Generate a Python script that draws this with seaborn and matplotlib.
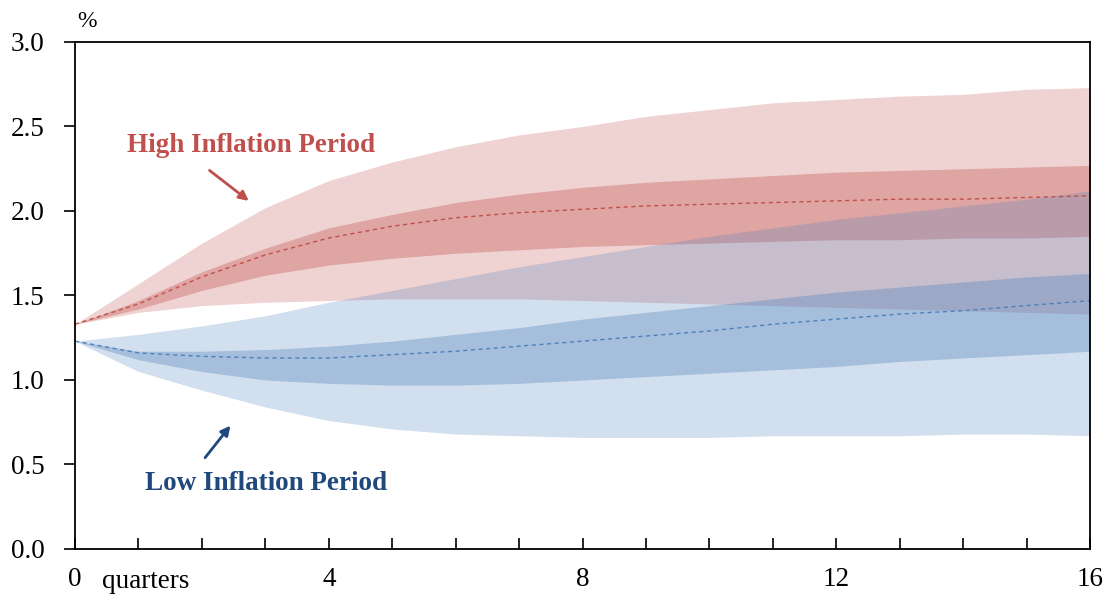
import numpy as np
import pandas as pd
import seaborn as sns
from matplotlib import pyplot as plt

# quarters after shock
quarters = list(range(17))

# High inflation period: percentile bands + median
high_outer_hi = [1.33, 1.57, 1.81, 2.02, 2.18, 2.29, 2.38, 2.45, 2.50, 2.56, 2.60, 2.64, 2.66, 2.68, 2.69, 2.72, 2.73]
high_inner_hi = [1.33, 1.47, 1.64, 1.78, 1.90, 1.98, 2.05, 2.10, 2.14, 2.17, 2.19, 2.21, 2.23, 2.24, 2.25, 2.26, 2.27]
high_median = [1.33, 1.45, 1.61, 1.74, 1.84, 1.91, 1.96, 1.99, 2.01, 2.03, 2.04, 2.05, 2.06, 2.07, 2.07, 2.08, 2.09]
high_inner_lo = [1.33, 1.42, 1.53, 1.62, 1.68, 1.72, 1.75, 1.77, 1.79, 1.80, 1.81, 1.82, 1.83, 1.83, 1.84, 1.84, 1.85]
high_outer_lo = [1.33, 1.40, 1.44, 1.46, 1.47, 1.48, 1.48, 1.48, 1.47, 1.46, 1.45, 1.44, 1.43, 1.42, 1.41, 1.40, 1.39]

# Low inflation period
low_outer_hi = [1.23, 1.27, 1.32, 1.38, 1.46, 1.53, 1.60, 1.67, 1.73, 1.79, 1.85, 1.90, 1.95, 1.99, 2.03, 2.07, 2.12]
low_inner_hi = [1.23, 1.17, 1.17, 1.18, 1.20, 1.23, 1.27, 1.31, 1.36, 1.40, 1.44, 1.48, 1.52, 1.55, 1.58, 1.61, 1.63]
low_median = [1.23, 1.16, 1.14, 1.13, 1.13, 1.15, 1.17, 1.20, 1.23, 1.26, 1.29, 1.33, 1.36, 1.39, 1.41, 1.44, 1.47]
low_inner_lo = [1.23, 1.12, 1.05, 1.00, 0.98, 0.97, 0.97, 0.98, 1.00, 1.02, 1.04, 1.06, 1.08, 1.11, 1.13, 1.15, 1.17]
low_outer_lo = [1.23, 1.05, 0.94, 0.84, 0.76, 0.71, 0.68, 0.67, 0.66, 0.66, 0.66, 0.67, 0.67, 0.67, 0.68, 0.68, 0.67]

y_ticks = [0.0, 0.5, 1.0, 1.5, 2.0, 2.5, 3.0]

red = "#C0504D"
blue = "#4F81BD"
navy = "#1F497D"

sns.set_theme(style="white")
plt.rcParams['font.family'] = ['Liberation Serif', 'DejaVu Serif']
plt.rcParams['text.color'] = 'black'
plt.rcParams['xtick.labelcolor'] = 'black'
plt.rcParams['ytick.labelcolor'] = 'black'

fig = plt.figure(figsize=(11.08, 5.94), dpi=100)
ax = fig.add_axes([0.0677, 0.0758, 0.9161, 0.8535])

# bands
ax.fill_between(quarters, high_outer_lo, high_outer_hi, color=red, alpha=0.25, lw=0)
ax.fill_between(quarters, high_inner_lo, high_inner_hi, color=red, alpha=0.35, lw=0)
ax.fill_between(quarters, low_outer_lo, low_outer_hi, color=blue, alpha=0.25, lw=0)
ax.fill_between(quarters, low_inner_lo, low_inner_hi, color=blue, alpha=0.35, lw=0)

# medians
df = pd.DataFrame({
    "quarter": quarters * 2,
    "value": high_median + low_median,
    "period": ["High"] * len(quarters) + ["Low"] * len(quarters),
})
sns.lineplot(data=df, x="quarter", y="value", hue="period",
             palette={"High": red, "Low": blue}, linewidth=1.0,
             ax=ax, legend=False)
for line in ax.get_lines():
    line.set_dashes([3, 2.5])

ax.set_xlim(0, 16)
ax.set_ylim(0, 3.0)
ax.set_xticks(quarters)
ax.set_xticklabels([str(q) if q % 4 == 0 else "" for q in quarters])
ax.set_yticks(y_ticks)
ax.set_yticklabels([f"{v:.1f}" for v in y_ticks])
ax.set_xlabel("")
ax.set_ylabel("")

for s in ax.spines.values():
    s.set_color("black")
    s.set_linewidth(1.3)

ax.tick_params(axis="x", direction="in", length=8, width=1.2, color="black",
               labelsize=19.5, labelcolor="black", pad=13, bottom=True)
ax.tick_params(axis="y", direction="out", length=8, width=1.2, color="black",
               labelsize=19.5, labelcolor="black", pad=14, left=True)

ax.text(0.04, 3.06, "%", fontsize=17, ha="left", va="bottom", color="black")
ax.text(1.12, -0.195, "quarters", fontsize=19.5, ha="center", va="center",
        color="black", clip_on=False)

ax.text(2.77, 2.39, "High Inflation Period", color=red, fontsize=19.5,
        fontweight="bold", ha="center", va="center")
ax.annotate("", xy=(2.74, 2.06), xytext=(2.12, 2.24),
            arrowprops=dict(arrowstyle="-|>", color=red, lw=2,
                            mutation_scale=14, shrinkA=0, shrinkB=0))

ax.text(3.01, 0.385, "Low Inflation Period", color=navy, fontsize=19.5,
        fontweight="bold", ha="center", va="center")
ax.annotate("", xy=(2.45, 0.73), xytext=(2.05, 0.54),
            arrowprops=dict(arrowstyle="-|>", color=navy, lw=2,
                            mutation_scale=14, shrinkA=0, shrinkB=0))

fig.savefig("out.png", dpi=100)
